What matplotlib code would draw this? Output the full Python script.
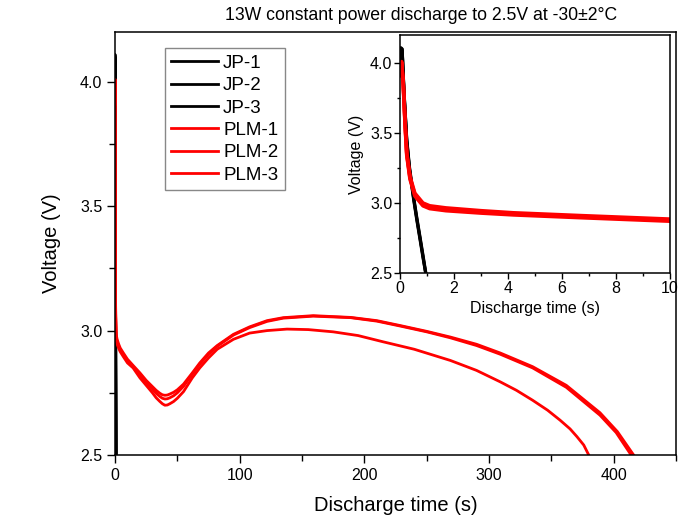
import matplotlib
matplotlib.use('Agg')
import matplotlib.pyplot as plt
from matplotlib.ticker import MultipleLocator

plt.rcParams['font.family'] = ['Liberation Sans', 'DejaVu Sans']

# JP cells: voltage collapses within ~1 s
jp_t = [0, 0.03, 0.08, 0.15, 0.25, 0.35, 0.5, 0.62, 0.74, 0.85, 0.95]
jp1_v = [4.02, 4.11, 4.10, 3.80, 3.45, 3.25, 3.04, 2.89, 2.75, 2.62, 2.50]
jp2_v = [4.01, 4.10, 4.09, 3.78, 3.44, 3.24, 3.03, 2.88, 2.74, 2.61, 2.50]
jp3_v = [4.02, 4.10, 4.10, 3.79, 3.46, 3.26, 3.05, 2.90, 2.76, 2.63, 2.51]

# PLM cells
plm1_t = [0, 0.03, 0.06, 0.12, 0.19, 0.25, 0.37, 0.55, 0.85, 1.1, 1.7, 3, 4.2, 6.7, 10,
          14.5, 20, 25, 30, 33, 36, 38, 40, 42, 44, 47, 50, 55, 62, 68, 75, 82, 95, 108, 122, 135, 159,
          189, 210, 229, 250, 269, 290, 309, 335, 362, 389, 403, 416]
plm1_v = [3.93, 3.96, 4.01, 3.86, 3.57, 3.36, 3.19, 3.07, 3.00, 2.98, 2.965, 2.945, 2.93, 2.91, 2.885,
          2.86, 2.83, 2.80, 2.775, 2.76, 2.748, 2.742, 2.74, 2.741, 2.745, 2.752, 2.762, 2.785, 2.83, 2.87, 2.91,
          2.94, 2.985, 3.015, 3.04, 3.052, 3.06,
          3.053, 3.04, 3.02, 2.997, 2.974, 2.945, 2.91, 2.855, 2.78, 2.67, 2.594, 2.50]
plm2_t = [0, 0.03, 0.06, 0.12, 0.19, 0.25, 0.37, 0.55, 0.85, 1.1, 1.7, 3, 4.2, 6.7, 10,
          14.5, 20, 25, 30, 33, 36, 38, 40, 42, 44, 47, 50, 55, 62, 68, 75, 82, 95, 108, 122, 135, 159,
          189, 210, 229, 250, 269, 290, 309, 335, 362, 389, 402, 414]
plm2_v = [3.92, 3.95, 4.00, 3.85, 3.56, 3.35, 3.18, 3.06, 2.99, 2.97, 2.955, 2.937, 2.922, 2.902, 2.878,
          2.855, 2.82, 2.79, 2.765, 2.748, 2.735, 2.728, 2.725, 2.726, 2.73, 2.738, 2.75, 2.776, 2.825, 2.865, 2.905,
          2.937, 2.982, 3.012, 3.037, 3.05, 3.058,
          3.052, 3.038, 3.018, 2.995, 2.971, 2.94, 2.905, 2.85, 2.772, 2.66, 2.59, 2.50]
plm3_t = [0, 0.03, 0.06, 0.12, 0.19, 0.25, 0.37, 0.55, 0.85, 1.1, 1.7, 3, 4.2, 6.7, 10,
          14.5, 20, 25, 30, 33, 36, 38, 40, 42, 44, 47, 50, 55, 62, 68, 75, 82, 95, 108, 122, 138, 155,
          175, 195, 215, 240, 269, 290, 309, 322, 335, 347, 357, 365, 370.5, 376, 380]
plm3_v = [3.91, 3.94, 3.99, 3.84, 3.55, 3.34, 3.17, 3.05, 2.98, 2.96, 2.945, 2.928, 2.915, 2.895, 2.87,
          2.85, 2.81, 2.78, 2.75, 2.73, 2.715, 2.706, 2.70, 2.701, 2.706, 2.715, 2.728, 2.755, 2.81, 2.85, 2.89,
          2.925, 2.965, 2.99, 3.00, 3.006, 3.004,
          2.995, 2.98, 2.955, 2.925, 2.88, 2.84, 2.794, 2.76, 2.72, 2.68, 2.64, 2.605, 2.574, 2.54, 2.50]

jp_series = [('JP-1', jp1_v), ('JP-2', jp2_v), ('JP-3', jp3_v)]
plm_series = [('PLM-1', plm1_t, plm1_v), ('PLM-2', plm2_t, plm2_v), ('PLM-3', plm3_t, plm3_v)]

fig = plt.figure(figsize=(6.91, 5.21), dpi=100)
ax = fig.add_axes([115/691, 1-455/521, 561/691, 423/521])
ins = fig.add_axes([400/691, 1-273/521, 270/691, 238/521])

for a, lw_k, lw_r in [(ax, 2.0, 2.0), (ins, 2.2, 2.6)]:
    for name, v in jp_series:
        a.plot(jp_t, v, color='black', lw=lw_k, label=name)
    for name, t, v in plm_series:
        a.plot(t, v, color='red', lw=lw_r, label=name, solid_joinstyle='round')
    for s in a.spines.values():
        s.set_linewidth(1.1)
    a.tick_params(which='both', direction='out', top=False, right=False, width=1.0)
    a.set_ylim(2.5, 4.2)
    a.yaxis.set_major_locator(MultipleLocator(0.5))
    a.yaxis.set_minor_locator(MultipleLocator(0.25))

ax.set_xlim(0, 450)
ax.xaxis.set_major_locator(MultipleLocator(100))
ax.xaxis.set_minor_locator(MultipleLocator(50))
ax.tick_params(which='major', length=6, labelsize=11.5, pad=3)
ax.tick_params(which='minor', length=4)
ax.set_xlabel('Discharge time (s)', fontsize=14.5, labelpad=10)
ax.set_ylabel('Voltage (V)', fontsize=14.5, labelpad=14)

ins.set_xlim(0, 10)
ins.xaxis.set_major_locator(MultipleLocator(2))
ins.xaxis.set_minor_locator(MultipleLocator(1))
ins.tick_params(which='major', length=4, labelsize=11.5, pad=1.5)
ins.tick_params(which='minor', length=2.5)
ins.set_xlabel('Discharge time (s)', fontsize=11.5, labelpad=4)
ins.set_ylabel('Voltage (V)', fontsize=11.5, labelpad=4)

leg = ax.legend(loc='upper left', bbox_to_anchor=(0.089, 0.962), borderaxespad=0,
                fontsize=13.5, frameon=True, fancybox=False, framealpha=1,
                edgecolor='#888888', handlelength=2.5, handletextpad=0.25,
                labelspacing=0.28, borderpad=0.35)
leg.get_frame().set_linewidth(1.0)

fig.text(421/691, 1-16/521, '13W constant power discharge to 2.5V at -30\u00b12\u00b0C',
         ha='center', va='center', fontsize=12.7)

fig.savefig('out.png', dpi=100)
